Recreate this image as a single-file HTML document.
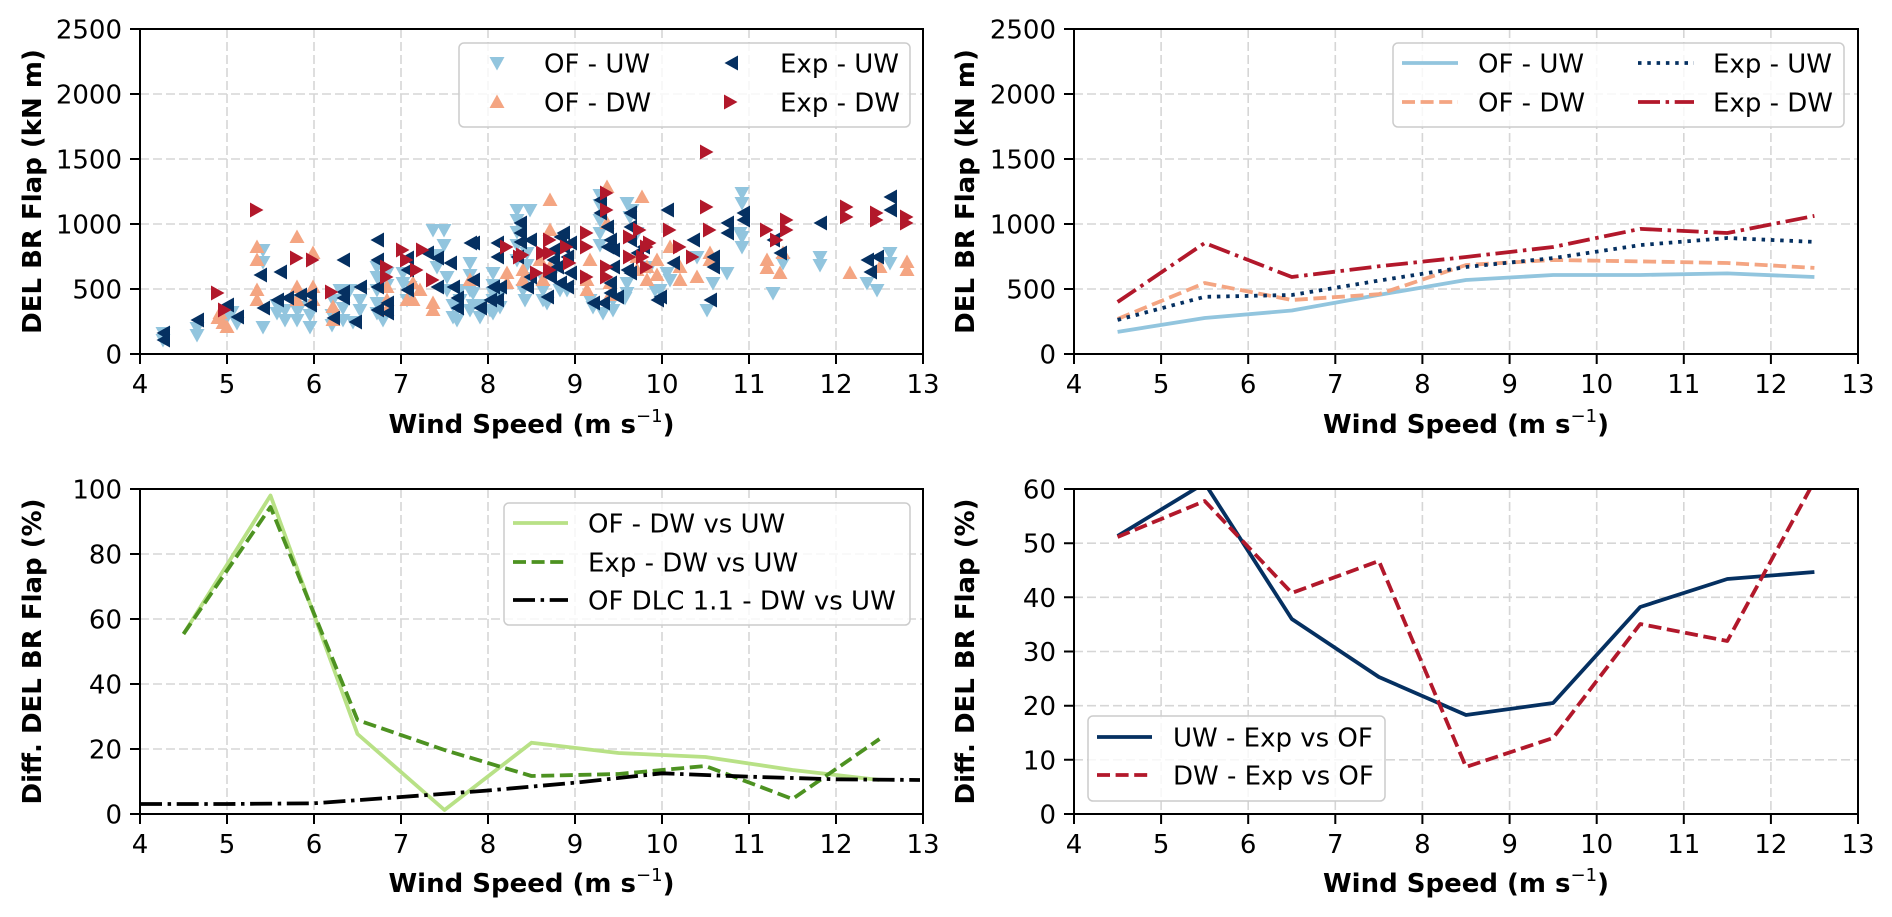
<!DOCTYPE html>
<html><head><meta charset="utf-8"><style>
html,body{margin:0;padding:0;background:#fff;}
svg{display:block;font-family:"DejaVu Sans","Liberation Sans",sans-serif;}
.t{font-size:26px;fill:#000;}
.lab{font-size:26px;font-weight:bold;fill:#000;}
.g{stroke:#d6d6d6;stroke-width:1.6;stroke-dasharray:9 4;fill:none;}
.sp{stroke:#000;stroke-width:2;fill:none;}
.tk{stroke:#000;stroke-width:2;}
.lg{fill:#fff;fill-opacity:.8;stroke:#cccccc;stroke-width:1.5;}
.ln{fill:none;stroke-width:3.8;stroke-linejoin:round;}
</style></head><body>
<svg width="1892" height="917" viewBox="0 0 1892 917" xmlns="http://www.w3.org/2000/svg">
<defs>
<path id="d" d="M-7.5,-6H7.5L0,7.5Z" fill="#92c5de"/>
<path id="u" d="M-7.5,6H7.5L0,-7.5Z" fill="#f4a582"/>
<path id="l" d="M-6.5,0L7,-7.5V7.5Z" fill="#053061"/>
<path id="r" d="M6.5,0L-7,-7.5V7.5Z" fill="#b2182b"/>
<clipPath id="c4"><rect x="1074" y="489" width="784" height="325"/></clipPath>
<clipPath id="c3"><rect x="140" y="489" width="783" height="325"/></clipPath>
</defs>

<!-- ============ TOP LEFT ============ -->
<g class="g">
<path d="M227,29V354M314,29V354M401,29V354M488,29V354M575,29V354M662,29V354M749,29V354M836,29V354"/>
<path d="M140,289H923M140,224H923M140,159H923M140,94H923"/>
</g>
<g>
<!-- OF-UW -->
<use href="#d" x="163" y="340"/><use href="#d" x="163" y="333"/><use href="#d" x="197" y="335"/><use href="#d" x="197" y="328"/><use href="#d" x="227" y="317"/><use href="#d" x="237" y="323"/><use href="#d" x="232" y="312"/><use href="#d" x="263" y="327"/><use href="#d" x="263" y="250"/><use href="#d" x="263" y="262"/><use href="#d" x="277" y="313"/><use href="#d" x="277" y="305"/><use href="#d" x="285" y="320"/><use href="#d" x="285" y="310"/><use href="#d" x="297" y="320"/><use href="#d" x="297" y="310"/><use href="#d" x="300" y="307"/><use href="#d" x="310" y="327"/><use href="#d" x="310" y="315"/><use href="#d" x="310" y="305"/><use href="#d" x="332" y="325"/><use href="#d" x="332" y="315"/><use href="#d" x="343" y="320"/><use href="#d" x="343" y="308"/><use href="#d" x="340" y="290"/><use href="#d" x="350" y="290"/><use href="#d" x="353" y="322"/><use href="#d" x="360" y="310"/><use href="#d" x="360" y="300"/><use href="#d" x="377" y="313"/><use href="#d" x="377" y="303"/><use href="#d" x="377" y="290"/><use href="#d" x="377" y="277"/><use href="#d" x="377" y="267"/><use href="#d" x="383" y="320"/><use href="#d" x="380" y="277"/><use href="#d" x="387" y="273"/><use href="#d" x="387" y="285"/><use href="#d" x="403" y="273"/><use href="#d" x="403" y="283"/><use href="#d" x="407" y="300"/><use href="#d" x="410" y="287"/><use href="#d" x="433" y="230"/><use href="#d" x="437" y="267"/><use href="#d" x="437" y="255"/><use href="#d" x="447" y="277"/><use href="#d" x="447" y="290"/><use href="#d" x="453" y="317"/><use href="#d" x="453" y="305"/><use href="#d" x="460" y="300"/><use href="#d" x="460" y="290"/><use href="#d" x="470" y="263"/><use href="#d" x="470" y="275"/><use href="#d" x="473" y="293"/><use href="#d" x="473" y="305"/><use href="#d" x="480" y="317"/><use href="#d" x="480" y="305"/><use href="#d" x="493" y="273"/><use href="#d" x="493" y="285"/><use href="#d" x="493" y="313"/><use href="#d" x="493" y="300"/><use href="#d" x="457" y="320"/><use href="#d" x="490" y="310"/><use href="#d" x="500" y="307"/><use href="#d" x="500" y="295"/><use href="#d" x="517" y="210"/><use href="#d" x="517" y="220"/><use href="#d" x="517" y="232"/><use href="#d" x="517" y="245"/><use href="#d" x="530" y="210"/><use href="#d" x="523" y="290"/><use href="#d" x="527" y="253"/><use href="#d" x="527" y="265"/><use href="#d" x="527" y="278"/><use href="#d" x="547" y="303"/><use href="#d" x="543" y="290"/><use href="#d" x="543" y="278"/><use href="#d" x="560" y="290"/><use href="#d" x="567" y="290"/><use href="#d" x="593" y="307"/><use href="#d" x="603" y="313"/><use href="#d" x="613" y="310"/><use href="#d" x="600" y="233"/><use href="#d" x="600" y="220"/><use href="#d" x="600" y="205"/><use href="#d" x="600" y="195"/><use href="#d" x="627" y="203"/><use href="#d" x="630" y="217"/><use href="#d" x="627" y="293"/><use href="#d" x="627" y="283"/><use href="#d" x="637" y="233"/><use href="#d" x="650" y="267"/><use href="#d" x="660" y="290"/><use href="#d" x="667" y="273"/><use href="#d" x="697" y="257"/><use href="#d" x="707" y="310"/><use href="#d" x="713" y="283"/><use href="#d" x="727" y="273"/><use href="#d" x="742" y="193"/><use href="#d" x="742" y="203"/><use href="#d" x="742" y="247"/><use href="#d" x="742" y="237"/><use href="#d" x="773" y="293"/><use href="#d" x="783" y="263"/><use href="#d" x="820" y="257"/><use href="#d" x="820" y="265"/><use href="#d" x="867" y="283"/><use href="#d" x="877" y="290"/><use href="#d" x="890" y="253"/><use href="#d" x="890" y="263"/><use href="#d" x="740" y="233"/><use href="#d" x="613" y="300"/><use href="#d" x="590" y="300"/><use href="#d" x="555" y="270"/>
<use href="#d" x="444" y="230"/><use href="#d" x="444" y="245"/><use href="#d" x="470" y="290"/><use href="#d" x="470" y="310"/><use href="#d" x="493" y="293"/><use href="#d" x="525" y="300"/><use href="#d" x="543" y="300"/><use href="#d" x="600" y="245"/><use href="#d" x="625" y="298"/><use href="#d" x="655" y="290"/><use href="#d" x="670" y="280"/><use href="#d" x="632" y="210"/><use href="#d" x="517" y="260"/><use href="#d" x="333" y="300"/><use href="#d" x="297" y="300"/>
<!-- OF-DW -->
<use href="#u" x="220" y="313"/><use href="#u" x="223" y="323"/><use href="#u" x="227" y="327"/><use href="#u" x="218" y="318"/><use href="#u" x="257" y="247"/><use href="#u" x="257" y="260"/><use href="#u" x="257" y="300"/><use href="#u" x="257" y="290"/><use href="#u" x="297" y="237"/><use href="#u" x="297" y="287"/><use href="#u" x="297" y="300"/><use href="#u" x="313" y="253"/><use href="#u" x="313" y="287"/><use href="#u" x="313" y="300"/><use href="#u" x="333" y="307"/><use href="#u" x="333" y="320"/><use href="#u" x="387" y="287"/><use href="#u" x="387" y="300"/><use href="#u" x="387" y="310"/><use href="#u" x="413" y="283"/><use href="#u" x="413" y="300"/><use href="#u" x="420" y="290"/><use href="#u" x="407" y="300"/><use href="#u" x="433" y="303"/><use href="#u" x="433" y="310"/><use href="#u" x="507" y="273"/><use href="#u" x="507" y="283"/><use href="#u" x="523" y="270"/><use href="#u" x="523" y="280"/><use href="#u" x="550" y="200"/><use href="#u" x="550" y="230"/><use href="#u" x="543" y="280"/><use href="#u" x="550" y="267"/><use href="#u" x="587" y="280"/><use href="#u" x="587" y="290"/><use href="#u" x="590" y="260"/><use href="#u" x="607" y="187"/><use href="#u" x="607" y="223"/><use href="#u" x="610" y="283"/><use href="#u" x="610" y="295"/><use href="#u" x="637" y="257"/><use href="#u" x="637" y="270"/><use href="#u" x="642" y="197"/><use href="#u" x="647" y="267"/><use href="#u" x="647" y="280"/><use href="#u" x="657" y="260"/><use href="#u" x="657" y="275"/><use href="#u" x="670" y="247"/><use href="#u" x="680" y="267"/><use href="#u" x="680" y="280"/><use href="#u" x="697" y="277"/><use href="#u" x="710" y="253"/><use href="#u" x="710" y="260"/><use href="#u" x="767" y="260"/><use href="#u" x="767" y="268"/><use href="#u" x="780" y="273"/><use href="#u" x="783" y="253"/><use href="#u" x="850" y="273"/><use href="#u" x="880" y="267"/><use href="#u" x="907" y="270"/><use href="#u" x="907" y="262"/><use href="#u" x="470" y="280"/><use href="#u" x="540" y="260"/>
<!-- Exp-UW -->
<use href="#l" x="163" y="333"/><use href="#l" x="163" y="340"/><use href="#l" x="197" y="320"/><use href="#l" x="227" y="305"/><use href="#l" x="237" y="317"/><use href="#l" x="263" y="308"/><use href="#l" x="260" y="275"/><use href="#l" x="280" y="272"/><use href="#l" x="277" y="300"/><use href="#l" x="287" y="298"/><use href="#l" x="300" y="295"/><use href="#l" x="310" y="295"/><use href="#l" x="310" y="305"/><use href="#l" x="333" y="318"/><use href="#l" x="343" y="292"/><use href="#l" x="343" y="260"/><use href="#l" x="343" y="298"/><use href="#l" x="355" y="322"/><use href="#l" x="360" y="287"/><use href="#l" x="377" y="240"/><use href="#l" x="377" y="260"/><use href="#l" x="377" y="287"/><use href="#l" x="377" y="310"/><use href="#l" x="387" y="313"/><use href="#l" x="387" y="303"/><use href="#l" x="407" y="290"/><use href="#l" x="407" y="270"/><use href="#l" x="407" y="258"/><use href="#l" x="427" y="253"/><use href="#l" x="437" y="258"/><use href="#l" x="437" y="287"/><use href="#l" x="450" y="263"/><use href="#l" x="453" y="287"/><use href="#l" x="457" y="298"/><use href="#l" x="457" y="308"/><use href="#l" x="473" y="243"/><use href="#l" x="473" y="280"/><use href="#l" x="480" y="308"/><use href="#l" x="497" y="243"/><use href="#l" x="497" y="257"/><use href="#l" x="497" y="300"/><use href="#l" x="493" y="287"/><use href="#l" x="470" y="243"/><use href="#l" x="490" y="300"/><use href="#l" x="500" y="287"/><use href="#l" x="520" y="223"/><use href="#l" x="520" y="233"/><use href="#l" x="520" y="242"/><use href="#l" x="517" y="257"/><use href="#l" x="530" y="240"/><use href="#l" x="530" y="277"/><use href="#l" x="527" y="287"/><use href="#l" x="547" y="297"/><use href="#l" x="550" y="277"/><use href="#l" x="553" y="250"/><use href="#l" x="553" y="260"/><use href="#l" x="557" y="267"/><use href="#l" x="563" y="233"/><use href="#l" x="563" y="247"/><use href="#l" x="560" y="283"/><use href="#l" x="560" y="237"/><use href="#l" x="570" y="273"/><use href="#l" x="567" y="257"/><use href="#l" x="567" y="287"/><use href="#l" x="570" y="243"/><use href="#l" x="593" y="303"/><use href="#l" x="600" y="200"/><use href="#l" x="600" y="213"/><use href="#l" x="607" y="227"/><use href="#l" x="607" y="247"/><use href="#l" x="610" y="240"/><use href="#l" x="613" y="250"/><use href="#l" x="613" y="267"/><use href="#l" x="610" y="283"/><use href="#l" x="610" y="293"/><use href="#l" x="617" y="297"/><use href="#l" x="603" y="303"/><use href="#l" x="630" y="213"/><use href="#l" x="630" y="227"/><use href="#l" x="630" y="240"/><use href="#l" x="630" y="273"/><use href="#l" x="627" y="270"/><use href="#l" x="637" y="253"/><use href="#l" x="643" y="247"/><use href="#l" x="657" y="300"/><use href="#l" x="660" y="297"/><use href="#l" x="667" y="210"/><use href="#l" x="673" y="263"/><use href="#l" x="693" y="240"/><use href="#l" x="713" y="257"/><use href="#l" x="713" y="267"/><use href="#l" x="710" y="300"/><use href="#l" x="727" y="223"/><use href="#l" x="727" y="233"/><use href="#l" x="743" y="213"/><use href="#l" x="743" y="220"/><use href="#l" x="773" y="240"/><use href="#l" x="780" y="253"/><use href="#l" x="820" y="223"/><use href="#l" x="867" y="260"/><use href="#l" x="870" y="272"/><use href="#l" x="877" y="257"/><use href="#l" x="890" y="197"/><use href="#l" x="890" y="210"/>
<!-- Exp-DW -->
<use href="#r" x="218" y="293"/><use href="#r" x="225" y="310"/><use href="#r" x="257" y="210"/><use href="#r" x="297" y="258"/><use href="#r" x="313" y="260"/><use href="#r" x="332" y="292"/><use href="#r" x="387" y="267"/><use href="#r" x="387" y="277"/><use href="#r" x="403" y="250"/><use href="#r" x="407" y="260"/><use href="#r" x="417" y="270"/><use href="#r" x="423" y="250"/><use href="#r" x="433" y="280"/><use href="#r" x="507" y="247"/><use href="#r" x="520" y="257"/><use href="#r" x="523" y="255"/><use href="#r" x="537" y="273"/><use href="#r" x="543" y="253"/><use href="#r" x="550" y="240"/><use href="#r" x="550" y="253"/><use href="#r" x="550" y="270"/><use href="#r" x="567" y="247"/><use href="#r" x="570" y="263"/><use href="#r" x="587" y="233"/><use href="#r" x="587" y="247"/><use href="#r" x="587" y="277"/><use href="#r" x="607" y="193"/><use href="#r" x="607" y="210"/><use href="#r" x="607" y="267"/><use href="#r" x="607" y="277"/><use href="#r" x="630" y="237"/><use href="#r" x="630" y="257"/><use href="#r" x="640" y="230"/><use href="#r" x="643" y="257"/><use href="#r" x="647" y="247"/><use href="#r" x="647" y="267"/><use href="#r" x="650" y="243"/><use href="#r" x="670" y="230"/><use href="#r" x="680" y="247"/><use href="#r" x="693" y="257"/><use href="#r" x="707" y="152"/><use href="#r" x="707" y="207"/><use href="#r" x="710" y="230"/><use href="#r" x="767" y="230"/><use href="#r" x="777" y="240"/><use href="#r" x="787" y="220"/><use href="#r" x="787" y="230"/><use href="#r" x="847" y="207"/><use href="#r" x="847" y="217"/><use href="#r" x="877" y="213"/><use href="#r" x="877" y="220"/><use href="#r" x="907" y="217"/><use href="#r" x="907" y="223"/>
</g>
<path class="sp" d="M140,29H923V354H140Z"/>
<path class="tk" d="M130,354H140M130,289H140M130,224H140M130,159H140M130,94H140M130,29H140M140,354V364M227,354V364M314,354V364M401,354V364M488,354V364M575,354V364M662,354V364M749,354V364M836,354V364M923,354V364"/>
<g class="t" text-anchor="end">
<text x="122" y="363.5">0</text><text x="122" y="298.5">500</text><text x="122" y="233.5">1000</text><text x="122" y="168.5">1500</text><text x="122" y="103.5">2000</text><text x="122" y="38.5">2500</text>
</g>
<g class="t" text-anchor="middle">
<text x="140" y="393">4</text><text x="227" y="393">5</text><text x="314" y="393">6</text><text x="401" y="393">7</text><text x="488" y="393">8</text><text x="575" y="393">9</text><text x="662" y="393">10</text><text x="749" y="393">11</text><text x="836" y="393">12</text><text x="923" y="393">13</text>
</g>
<text class="lab" x="531.5" y="433" text-anchor="middle">Wind Speed (m s<tspan font-weight="normal" font-size="18" dy="-11">−1</tspan><tspan dy="11">)</tspan></text>
<text class="lab" transform="translate(41,191.5) rotate(-90)" text-anchor="middle">DEL BR Flap (kN m)</text>
<rect class="lg" x="459" y="43" width="451" height="84" rx="5"/>
<use href="#d" x="497" y="63"/><use href="#u" x="497" y="102"/><use href="#l" x="731" y="63"/><use href="#r" x="731" y="102"/>
<g class="t"><text x="544" y="72.5">OF - UW</text><text x="544" y="111.5">OF - DW</text><text x="780" y="72.5">Exp - UW</text><text x="780" y="111.5">Exp - DW</text></g>

<!-- ============ TOP RIGHT ============ -->
<g class="g">
<path d="M1161.1,29V354M1248.2,29V354M1335.3,29V354M1422.4,29V354M1509.6,29V354M1596.7,29V354M1683.8,29V354M1770.9,29V354"/>
<path d="M1074,289H1858M1074,224H1858M1074,159H1858M1074,94H1858"/>
</g>
<polyline class="ln" stroke="#92c5de" points="1117.6,331.9 1204.7,318 1291.8,310.5 1378.9,294.9 1466,280 1553.1,275 1640.2,275 1727.3,273.4 1814.4,277"/>
<polyline class="ln" stroke="#f4a582" stroke-dasharray="13 5.6" points="1117.6,319 1204.7,283 1291.8,300 1378.9,294.2 1466,265 1553.1,260 1640.2,261.4 1727.3,263 1814.4,267.9"/>
<polyline class="ln" stroke="#053061" stroke-dasharray="3.5 5.8" points="1117.6,319.9 1204.7,296.8 1291.8,295 1378.9,280.6 1466,267 1553.1,258.1 1640.2,245.1 1727.3,238 1814.4,241.9"/>
<polyline class="ln" stroke="#b2182b" stroke-dasharray="22 5.6 3.5 5.6" points="1117.6,302 1204.7,243 1291.8,277 1378.9,266.3 1466,257 1553.1,247 1640.2,228.9 1727.3,233 1814.4,215.9"/>
<path class="sp" d="M1074,29H1858V354H1074Z"/>
<path class="tk" d="M1064,354H1074M1064,289H1074M1064,224H1074M1064,159H1074M1064,94H1074M1064,29H1074M1074,354V364M1161.1,354V364M1248.2,354V364M1335.3,354V364M1422.4,354V364M1509.6,354V364M1596.7,354V364M1683.8,354V364M1770.9,354V364M1858,354V364"/>
<g class="t" text-anchor="end">
<text x="1056" y="363.5">0</text><text x="1056" y="298.5">500</text><text x="1056" y="233.5">1000</text><text x="1056" y="168.5">1500</text><text x="1056" y="103.5">2000</text><text x="1056" y="38.5">2500</text>
</g>
<g class="t" text-anchor="middle">
<text x="1074" y="393">4</text><text x="1161.1" y="393">5</text><text x="1248.2" y="393">6</text><text x="1335.3" y="393">7</text><text x="1422.4" y="393">8</text><text x="1509.6" y="393">9</text><text x="1596.7" y="393">10</text><text x="1683.8" y="393">11</text><text x="1770.9" y="393">12</text><text x="1858" y="393">13</text>
</g>
<text class="lab" x="1466" y="433" text-anchor="middle">Wind Speed (m s<tspan font-weight="normal" font-size="18" dy="-11">−1</tspan><tspan dy="11">)</tspan></text>
<text class="lab" transform="translate(974,191.5) rotate(-90)" text-anchor="middle">DEL BR Flap (kN m)</text>
<rect class="lg" x="1393" y="43" width="451" height="84" rx="5"/>
<path class="ln" stroke="#92c5de" d="M1402,63H1458"/>
<path class="ln" stroke="#f4a582" stroke-dasharray="13 5.6" d="M1402,102H1458"/>
<path class="ln" stroke="#053061" stroke-dasharray="3.5 5.8" d="M1638,63H1694"/>
<path class="ln" stroke="#b2182b" stroke-dasharray="22 5.6 3.5 5.6" d="M1638,102H1694"/>
<g class="t"><text x="1478" y="72.5">OF - UW</text><text x="1478" y="111.5">OF - DW</text><text x="1713" y="72.5">Exp - UW</text><text x="1713" y="111.5">Exp - DW</text></g>

<!-- ============ BOTTOM LEFT ============ -->
<g class="g">
<path d="M227,489V814M314,489V814M401,489V814M488,489V814M575,489V814M662,489V814M749,489V814M836,489V814"/>
<path d="M140,749H923M140,684H923M140,619H923M140,554H923"/>
</g>
<g clip-path="url(#c3)">
<polyline class="ln" stroke="#b8e186" points="183.5,634 270.5,495.5 357.5,734 444.5,810 531.5,742.7 618.5,753 705.5,757 792.5,770 879.5,780"/>
<polyline class="ln" stroke="#4d9221" stroke-dasharray="13 5.6" points="183.5,634 270.5,507 357.5,720 444.5,750 531.5,776 618.5,774 705.5,766 792.5,799 879.5,739"/>
<polyline class="ln" stroke="#000" stroke-dasharray="22 5.6 3.5 5.6" points="140,804 227,804 314,803.3 401,797 488,790.5 575,782.7 662,773.3 749,776.7 836,779.3 920,780"/>
</g>
<path class="sp" d="M140,489H923V814H140Z"/>
<path class="tk" d="M130,814H140M130,749H140M130,684H140M130,619H140M130,554H140M130,489H140M140,814V824M227,814V824M314,814V824M401,814V824M488,814V824M575,814V824M662,814V824M749,814V824M836,814V824M923,814V824"/>
<g class="t" text-anchor="end">
<text x="122" y="823.5">0</text><text x="122" y="758.5">20</text><text x="122" y="693.5">40</text><text x="122" y="628.5">60</text><text x="122" y="563.5">80</text><text x="122" y="498.5">100</text>
</g>
<g class="t" text-anchor="middle">
<text x="140" y="853">4</text><text x="227" y="853">5</text><text x="314" y="853">6</text><text x="401" y="853">7</text><text x="488" y="853">8</text><text x="575" y="853">9</text><text x="662" y="853">10</text><text x="749" y="853">11</text><text x="836" y="853">12</text><text x="923" y="853">13</text>
</g>
<text class="lab" x="531.5" y="892" text-anchor="middle">Wind Speed (m s<tspan font-weight="normal" font-size="18" dy="-11">−1</tspan><tspan dy="11">)</tspan></text>
<text class="lab" transform="translate(41,651.5) rotate(-90)" text-anchor="middle">Diff. DEL BR Flap (%)</text>
<rect class="lg" x="504" y="503" width="406" height="122" rx="5"/>
<path class="ln" stroke="#b8e186" d="M513,523H568"/>
<path class="ln" stroke="#4d9221" stroke-dasharray="13 5.6" d="M513,562H568"/>
<path class="ln" stroke="#000" stroke-dasharray="22 5.6 3.5 5.6" d="M513,600H568"/>
<g class="t"><text x="588" y="532.5">OF - DW vs UW</text><text x="588" y="571.5">Exp - DW vs UW</text><text x="588" y="609.5">OF DLC 1.1 - DW vs UW</text></g>

<!-- ============ BOTTOM RIGHT ============ -->
<g class="g">
<path d="M1161.1,489V814M1248.2,489V814M1335.3,489V814M1422.4,489V814M1509.6,489V814M1596.7,489V814M1683.8,489V814M1770.9,489V814"/>
<path d="M1074,759.8H1858M1074,705.7H1858M1074,651.5H1858M1074,597.3H1858M1074,543.2H1858"/>
</g>
<g clip-path="url(#c4)">
<polyline class="ln" stroke="#053061" points="1117.6,536 1204.7,483.1 1291.8,619 1378.9,677 1466,715 1553.1,703 1640.2,607 1727.3,579 1814.4,572"/>
<polyline class="ln" stroke="#b2182b" stroke-dasharray="13 5.6" points="1117.6,537 1204.7,501 1291.8,593 1378.9,561 1466,767 1553.1,738 1640.2,624 1727.3,641 1814.4,481"/>
</g>
<path class="sp" d="M1074,489H1858V814H1074Z"/>
<path class="tk" d="M1064,814H1074M1064,759.8H1074M1064,705.7H1074M1064,651.5H1074M1064,597.3H1074M1064,543.2H1074M1064,489H1074M1074,814V824M1161.1,814V824M1248.2,814V824M1335.3,814V824M1422.4,814V824M1509.6,814V824M1596.7,814V824M1683.8,814V824M1770.9,814V824M1858,814V824"/>
<g class="t" text-anchor="end">
<text x="1056" y="823.5">0</text><text x="1056" y="769.3">10</text><text x="1056" y="715.2">20</text><text x="1056" y="661">30</text><text x="1056" y="606.8">40</text><text x="1056" y="552.7">50</text><text x="1056" y="498.5">60</text>
</g>
<g class="t" text-anchor="middle">
<text x="1074" y="853">4</text><text x="1161.1" y="853">5</text><text x="1248.2" y="853">6</text><text x="1335.3" y="853">7</text><text x="1422.4" y="853">8</text><text x="1509.6" y="853">9</text><text x="1596.7" y="853">10</text><text x="1683.8" y="853">11</text><text x="1770.9" y="853">12</text><text x="1858" y="853">13</text>
</g>
<text class="lab" x="1466" y="892" text-anchor="middle">Wind Speed (m s<tspan font-weight="normal" font-size="18" dy="-11">−1</tspan><tspan dy="11">)</tspan></text>
<text class="lab" transform="translate(974,651.5) rotate(-90)" text-anchor="middle">Diff. DEL BR Flap (%)</text>
<rect class="lg" x="1088" y="716" width="297" height="85" rx="5"/>
<path class="ln" stroke="#053061" d="M1097,737H1152"/>
<path class="ln" stroke="#b2182b" stroke-dasharray="13 5.6" d="M1097,775H1152"/>
<g class="t"><text x="1173" y="746.5">UW - Exp vs OF</text><text x="1173" y="784.5">DW - Exp vs OF</text></g>
</svg>
</body></html>
